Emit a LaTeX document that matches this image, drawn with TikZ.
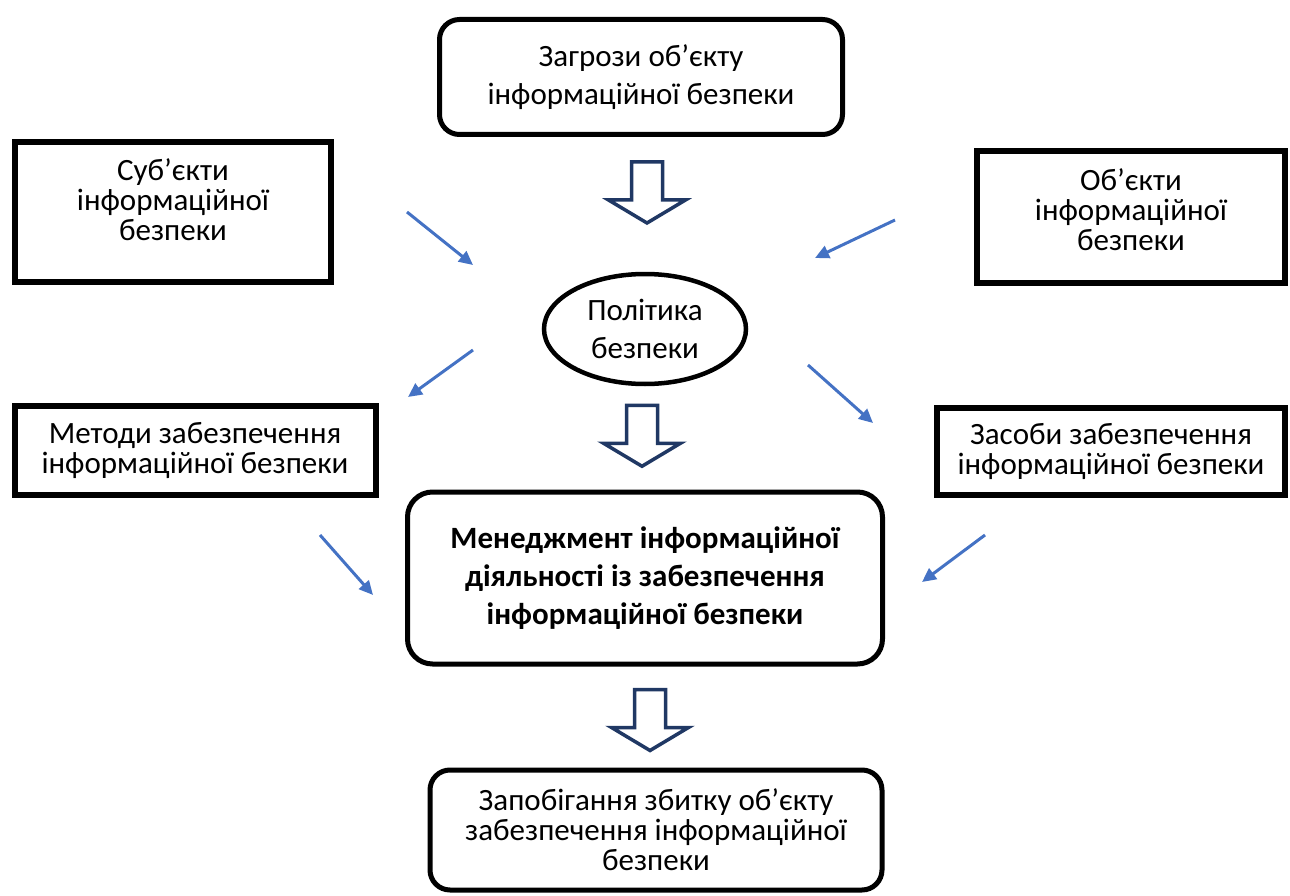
\documentclass[tikz,border=0pt]{standalone}
\usepackage{fontspec}
\setmainfont{Carlito}
\usepackage{tikz}
\usetikzlibrary{shapes.geometric, arrows.meta, calc, positioning}
\definecolor{arrowblue}{HTML}{4472C4}
\definecolor{navy}{HTML}{203864}
\tikzstyle{block} = [rectangle, line width=6pt, draw=black, fill=white, align=center, inner sep=0pt, font=\fontsize{31}{30}\selectfont]
\tikzstyle{roundblock} = [block, line width=5pt, rounded corners=20pt, font=\fontsize{31}{38}\selectfont]
\tikzstyle{policy} = [ellipse, line width=4.5pt, draw=black, align=center, inner sep=0pt, font=\fontsize{31}{38}\selectfont]
\tikzstyle{arrow} = [line width=3pt, arrowblue, -{Triangle[length=14pt,width=13pt]}]
\tikzset{hollowdown/.pic={
	\draw[navy, line width=3.5pt, fill=white, line join=miter] (-15.5,0) -- (15.5,0) -- (15.5,38) -- (38.5,38) -- (0,61) -- (-38.5,38) -- (-15.5,38) -- cycle;
}}

\begin{document}
\begin{tikzpicture}[x=1pt, y=-1pt]
	\useasboundingbox (0,0) rectangle (1290,896);
	\node (Threats) [roundblock, minimum width=403, minimum height=115] at (641,77) {Загрози об’єкту\\інформаційної безпеки};
	\node (Subjects) [block, minimum width=316, minimum height=140, text depth=24pt] at (173,212) {Суб’єкти\\інформаційної\\безпеки};
	\node (Objects) [block, minimum width=308, minimum height=131, text depth=14pt] at (1131,217) {Об’єкти\\інформаційної\\безпеки};
	\node (Policy) [policy, minimum width=202, minimum height=110] at (645,329) {Політика\\безпеки};
	\node (Methods) [block, minimum width=361, minimum height=89] at (195,450) {Методи забезпечення\\інформаційної безпеки};
	\node (Means) [block, minimum width=348, minimum height=87] at (1111,451) {Засоби забезпечення\\інформаційної безпеки};
	\node (Management) [roundblock, rounded corners=25pt, minimum width=475, minimum height=172, font=\bfseries\fontsize{31}{38}\selectfont] at (645,578) {Менеджмент інформаційної\\діяльності із забезпечення\\інформаційної безпеки};
	\node (Prevention) [roundblock, minimum width=452, minimum height=120, font=\fontsize{31}{30}\selectfont] at (656,830) {Запобігання збитку об’єкту\\забезпечення інформаційної\\безпеки};
	\pic at ($(Threats.south)+(6,25)$) {hollowdown};
	\pic at ($(Policy.south)+(-3,19)$) {hollowdown};
	\pic at ($(Management.south)+(5,23)$) {hollowdown};
	\coordinate (SubjectsOut) at (407,212);
	\coordinate (SubjectsIn) at (473,265);
	\coordinate (ObjectsOut) at (895,220);
	\coordinate (ObjectsIn) at (815,258);
	\coordinate (MethodsOut) at (473,350);
	\coordinate (MethodsIn) at (408,397);
	\coordinate (MeansOut) at (808,365);
	\coordinate (MeansIn) at (873,423);
	\coordinate (ManagementLeftOut) at (320,535);
	\coordinate (ManagementLeftIn) at (373,595);
	\coordinate (ManagementRightOut) at (985,535);
	\coordinate (ManagementRightIn) at (922,582);
	\draw [arrow] (SubjectsOut) -- (SubjectsIn);
	\draw [arrow] (ObjectsOut) -- (ObjectsIn);
	\draw [arrow] (MethodsOut) -- (MethodsIn);
	\draw [arrow] (MeansOut) -- (MeansIn);
	\draw [arrow] (ManagementLeftOut) -- (ManagementLeftIn);
	\draw [arrow] (ManagementRightOut) -- (ManagementRightIn);
\end{tikzpicture}
\end{document}
